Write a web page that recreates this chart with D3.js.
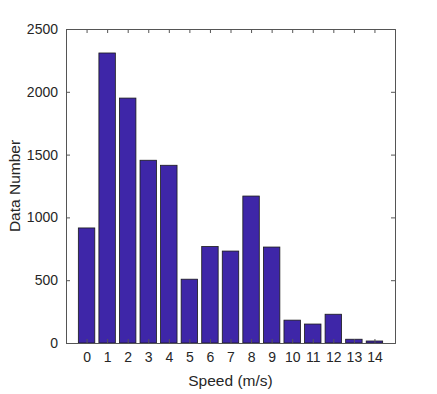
<!DOCTYPE html>
<html lang="en">
<head>
    <meta charset="UTF-8">
    <script src="https://cdnjs.cloudflare.com/ajax/libs/d3/7.8.5/d3.min.js"></script>
    <title>Speed histogram</title>
    <style>
        body { margin: 0; background: #fff; }
        text { font-family: "Liberation Sans", Arial, sans-serif; }
    </style>
</head>
<body>
    <script>
        var width = 437;
        var height = 394;

        var speeds = [0,1,2,3,4,5,6,7,8,9,10,11,12,13,14];
        var counts = [916,2309,1950,1455,1415,508,768,732,1170,764,182,151,229,30,16];
        var yTicks = [0,500,1000,1500,2000,2500];

        var m = {left: 66, right: 395, top: 29, bottom: 343};

        var x = d3.scaleLinear().domain([-1, 15]).range([m.left, m.right]);
        var y = d3.scaleLinear().domain([0, 2500]).range([m.bottom, m.top]);
        var barW = x(0.8) - x(0);

        var svg = d3.select('body').append('svg')
                    .attr('width', width)
                    .attr('height', height);

        // bars
        svg.selectAll('rect.bar')
            .data(counts)
            .enter()
                .append('rect')
                .attr('class', 'bar')
                .attr('x', function(d, i){ return x(speeds[i]) - barW / 2; })
                .attr('y', function(d){ return y(d); })
                .attr('width', barW)
                .attr('height', function(d){ return y(0) - y(d); })
                .attr('fill', '#3e26a8')
                .attr('stroke', '#1a1a1a')
                .attr('stroke-width', 0.8);

        var axisCol = '#555';
        var fs = '14px';

        // axes (ticks inward)
        var xb = svg.append('g').attr('transform', 'translate(0,' + m.bottom + ')')
                    .call(d3.axisBottom(x).tickValues(speeds).tickSize(-4).tickPadding(9).tickFormat(d3.format('d')));
        var xt = svg.append('g').attr('transform', 'translate(0,' + m.top + ')')
                    .call(d3.axisTop(x).tickValues(speeds).tickSize(-4).tickFormat(''));
        var yl = svg.append('g').attr('transform', 'translate(' + m.left + ',0)')
                    .call(d3.axisLeft(y).tickValues(yTicks).tickSize(-4).tickPadding(8).tickFormat(d3.format('d')));
        var yr = svg.append('g').attr('transform', 'translate(' + m.right + ',0)')
                    .call(d3.axisRight(y).tickValues(yTicks).tickSize(-4).tickFormat(''));

        [xb, xt, yl, yr].forEach(function(g){
            g.select('.domain').attr('stroke', axisCol).attr('stroke-width', 1);
            g.selectAll('.tick line').attr('stroke', axisCol);
            g.selectAll('.tick text').attr('fill', '#262626').style('font-size', fs)
                .style('font-family', '"Liberation Sans", Arial, sans-serif');
        });

        // axis labels
        svg.append('text')
            .attr('x', (m.left + m.right) / 2)
            .attr('y', 386)
            .attr('text-anchor', 'middle')
            .attr('fill', '#262626')
            .style('font-size', '15.5px')
            .text('Speed (m/s)');

        svg.append('text')
            .attr('transform', 'translate(20,' + ((m.top + m.bottom) / 2) + ') rotate(-90)')
            .attr('text-anchor', 'middle')
            .attr('fill', '#262626')
            .style('font-size', '15.5px')
            .text('Data Number');
    </script>
</body>
</html>
